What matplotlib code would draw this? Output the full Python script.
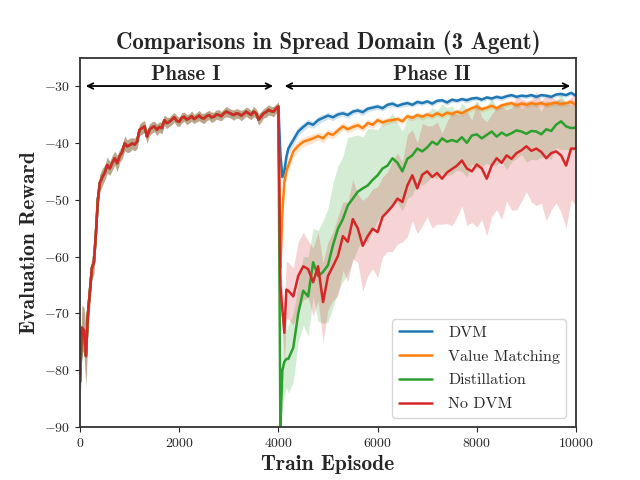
import numpy as np
import matplotlib
matplotlib.use("Agg")
import matplotlib.pyplot as plt
import seaborn as sns

# phase I (shared by every method)
p1_x = [0, 40, 80, 120, 160, 200, 240, 280, 320, 360, 400] + list(range(450, 4001, 50))
p1_y = [-82, -72.5, -73, -77.5, -70, -66, -62, -61, -56, -50, -47,
        -46, -45.2, -43.9, -44.5, -43.5, -42.7, -43.6, -42.3, -41.6, -40.1,
        -40.6, -40.4, -40.1, -40.3, -39.8, -37.7, -37.4, -37.1, -38.9, -37.7,
        -37.3, -37.1, -37.7, -37.2, -37.4, -36.0, -36.5, -36.3, -35.9, -35.5,
        -36.1, -36.3, -35.6, -35.4, -35.9, -35.7, -35.3, -35.8, -35.5, -35.2,
        -35.6, -35.7, -35.3, -35.1, -35.5, -35.4, -35.0, -35.1, -35.3, -34.8,
        -34.5, -34.7, -34.9, -35.1, -34.8, -34.9, -35.2, -34.9, -34.5, -34.8,
        -35.1, -34.5, -34.8, -35.9, -35.4, -34.8, -34.6, -34.2, -34.4, -34.5,
        -34.0, -33.6]
p1_err = [4, 4, 4, 5, 3, 2.5, 2, 2, 2, 1.5, 1.5,
          1.5, 1.3, 1.4, 1.2, 1.3, 1.2, 1.4, 1.1, 1.2, 1.3,
          1.1, 1.2, 1.0, 1.1, 1.2, 1.0, 1.1, 1.0, 1.2, 1.0,
          1.0, 0.9, 1.0, 0.9, 1.0, 0.9, 1.0, 0.8, 0.9, 0.8,
          0.9, 0.8, 0.9, 0.8, 0.9, 0.8, 0.9, 0.8, 0.8, 0.9,
          0.8, 0.9, 0.8, 0.8, 0.9, 0.8, 0.8, 0.9, 0.8, 0.8,
          0.9, 0.8, 0.8, 0.9, 0.8, 0.8, 0.9, 0.8, 0.8, 0.9,
          0.8, 0.9, 0.8, 1.0, 0.9, 0.8, 0.9, 0.9, 0.8, 0.9,
          0.8, 0.8]

# phase II
p2_x = [4040, 4080, 4120, 4160] + list(range(4200, 10001, 100))

dvm = [-42, -46, -45, -42.5,
       -41, -39.5, -38, -37.2, -36.5, -36.8, -36, -35.6, -35.2, -35.5,
       -35, -34.8, -35.1, -34.5, -34.3, -34.6, -34, -33.8, -33.6, -33.9,
       -33.3, -33.1, -33.5, -33.2, -33, -33.3, -32.8, -33, -32.7, -33.1,
       -32.6, -32.5, -32.9, -32.4, -32.6, -32.3, -32.5, -32.2, -32.1, -32.4,
       -32, -32.2, -31.9, -32.1, -31.8, -31.6, -31.9, -31.7, -31.8, -31.6,
       -31.9, -31.6, -31.7, -31.9, -31.5, -31.4, -31.6, -31.2, -31.7]
dvm_err = [1.5, 1.5, 1.5, 1.2,
           1.0, 0.9, 0.8, 0.7, 0.7, 0.6, 0.7, 0.6, 0.6, 0.6,
           0.6, 0.5, 0.6, 0.5, 0.5, 0.6, 0.5, 0.5, 0.5, 0.5,
           0.5, 0.5, 0.4, 0.5, 0.5, 0.4, 0.5, 0.4, 0.4, 0.5,
           0.4, 0.4, 0.5, 0.4, 0.4, 0.4, 0.5, 0.4, 0.4, 0.4,
           0.4, 0.4, 0.4, 0.5, 0.4, 0.4, 0.4, 0.4, 0.4, 0.4,
           0.4, 0.4, 0.4, 0.4, 0.4, 0.4, 0.4, 0.4, 0.4]

vm = [-62, -52, -47, -45,
      -44, -41.5, -40.5, -39.8, -39.5, -39.2, -38.8, -39.2, -38.3, -38.6,
      -37.8, -37.1, -37.6, -37.2, -36.9, -37.4, -36.5, -36.8, -36, -36.4,
      -36.1, -36, -35.8, -36.2, -35.3, -35.6, -35.1, -35.4, -35, -35.3,
      -34.8, -35.2, -34.7, -34.9, -34.5, -34.8, -34.3, -33.9, -33.6, -34.1,
      -33.8, -33.5, -33.9, -33.4, -33.2, -33, -33.4, -33.1, -33.3, -33,
      -33.2, -33, -33.3, -33.1, -32.9, -33.2, -33, -32.8, -33.3]
vm_err = [2, 2, 1.5, 1.2,
          1.0, 1.0, 0.9, 0.8, 0.8, 0.8, 0.7, 0.8, 0.7, 0.7,
          0.7, 0.7, 0.6, 0.7, 0.6, 0.6, 0.6, 0.6, 0.6, 0.6,
          0.6, 0.5, 0.6, 0.5, 0.6, 0.5, 0.5, 0.6, 0.5, 0.5,
          0.5, 0.5, 0.5, 0.5, 0.5, 0.5, 0.5, 0.5, 0.5, 0.5,
          0.5, 0.5, 0.5, 0.5, 0.5, 0.5, 0.5, 0.5, 0.5, 0.5,
          0.5, 0.5, 0.5, 0.5, 0.5, 0.5, 0.5, 0.5, 0.5]

distill = [-90, -80, -78.5, -78,
           -78, -76, -70, -66, -67, -61, -63.4, -62.7, -61.5, -58,
           -55.1, -53.4, -51, -49.8, -48.6, -48, -47.5, -46.5, -45.7, -44.5,
           -44, -42.7, -43.5, -45, -42.8, -42.2, -41, -41.5, -40.8, -39.8,
           -40.3, -39.2, -39.8, -39.5, -39.8, -39, -40, -38.7, -38.5, -39.2,
           -38.6, -38, -38.9, -38.2, -38.7, -38.3, -37.8, -38, -38.4, -37.9,
           -38, -38.5, -37.6, -37.9, -36.8, -36.2, -37.1, -37.4, -37.3]
distill_err = [3, 6, 6, 5,
               6, 6, 5, 6, 7, 6, 8, 9, 10, 11,
               11, 11, 12, 11, 10, 9, 10, 9, 8, 8,
               8, 8, 7, 7, 7, 7, 6, 6, 6, 6,
               6, 6, 6, 6, 5, 6, 6, 5, 6, 5,
               5, 6, 5, 5, 6, 5, 5, 4, 5, 5,
               5, 4, 5, 5, 4, 5, 4, 4, 4]

no_dvm = [-65.2, -69.3, -73.4, -65.8,
          -66, -67, -63.4, -61.7, -62.2, -64.5, -61.7, -68, -63.4, -61.7,
          -59.9, -56.4, -57.4, -53.4, -55, -58.1, -56.4, -55.1, -55.7, -53,
          -52.1, -51.1, -49.8, -50.4, -47.5, -45.7, -48, -45.6, -45, -46,
          -45.3, -46.3, -45.2, -44.6, -44, -43.1, -44.5, -45, -43.8, -44.5,
          -46.3, -44, -42.7, -43.5, -42.2, -42.8, -41.8, -41.3, -40.6, -41.4,
          -41, -41.6, -42.7, -41.8, -41.5, -42.2, -44, -41, -41]
no_dvm_err = [3, 4, 5, 5,
              5, 5, 6, 6, 5, 6, 6, 7, 6, 6,
              7, 6, 7, 7, 6, 8, 7, 7, 8, 7,
              7, 8, 8, 7, 9, 8, 8, 9, 8, 9,
              9, 8, 9, 10, 9, 8, 10, 9, 11, 9,
              10, 9, 9, 10, 8, 9, 10, 9, 8, 9,
              10, 9, 11, 10, 9, 10, 11, 9, 10]

labels = ["DVM", "Value Matching", "Distillation", "No DVM"]
colors = ["#1f77b4", "#ff7f0e", "#2ca02c", "#d62728"]
phase2 = [(dvm, dvm_err), (vm, vm_err), (distill, distill_err), (no_dvm, no_dvm_err)]

sns.set_style("ticks")
plt.rcParams["font.family"] = ["cmr10", "DejaVu Serif"]
plt.rcParams["mathtext.fontset"] = "cm"
plt.rcParams["axes.formatter.use_mathtext"] = True
plt.rcParams["axes.unicode_minus"] = True

fig, ax = plt.subplots(figsize=(6.4, 4.8), dpi=100)

for (y2, e2), lab, c in zip(phase2, labels, colors):
    x = np.array(p1_x + p2_x)
    y = np.array(p1_y + y2)
    e = np.array(p1_err + e2)
    ax.fill_between(x, y - e, y + e, color=c, alpha=0.2, lw=0)
    ax.plot(x, y, color=c, lw=1.8, label=lab)

ax.set_xlim(0, 10000)
ax.set_ylim(-90, -25)
ax.set_yticks([-90, -80, -70, -60, -50, -40, -30])
ax.set_xticks([0, 2000, 4000, 6000, 8000, 10000])
ax.tick_params(labelsize=10, colors=".15")

bold_font = ["cmb10", "DejaVu Serif"]
ax.set_title("Comparisons in Spread Domain (3 Agent)", family=bold_font, size=16.5)
ax.set_xlabel("Train Episode", family=bold_font, size=15.5)
ax.set_ylabel("Evaluation Reward", family=bold_font, size=15.5)

arrow = dict(arrowstyle="<->", color="black", lw=1.3)
ax.annotate("", xy=(60, -30), xytext=(3950, -30), arrowprops=arrow)
ax.annotate("", xy=(4070, -30), xytext=(9940, -30), arrowprops=arrow)
ax.text(2130, -29.6, "Phase I", ha="center", va="bottom", family=bold_font, size=15)
ax.text(7100, -29.6, "Phase II", ha="center", va="bottom", family=bold_font, size=15)

for s in ax.spines.values():
    s.set_linewidth(1.3)
    s.set_color(".2")

ax.legend(loc="lower right", fontsize=11.5, framealpha=0.8, handlelength=2.1,
          handletextpad=1.0, labelspacing=0.6, borderaxespad=0.6)

fig.savefig("out.png", dpi=100)
